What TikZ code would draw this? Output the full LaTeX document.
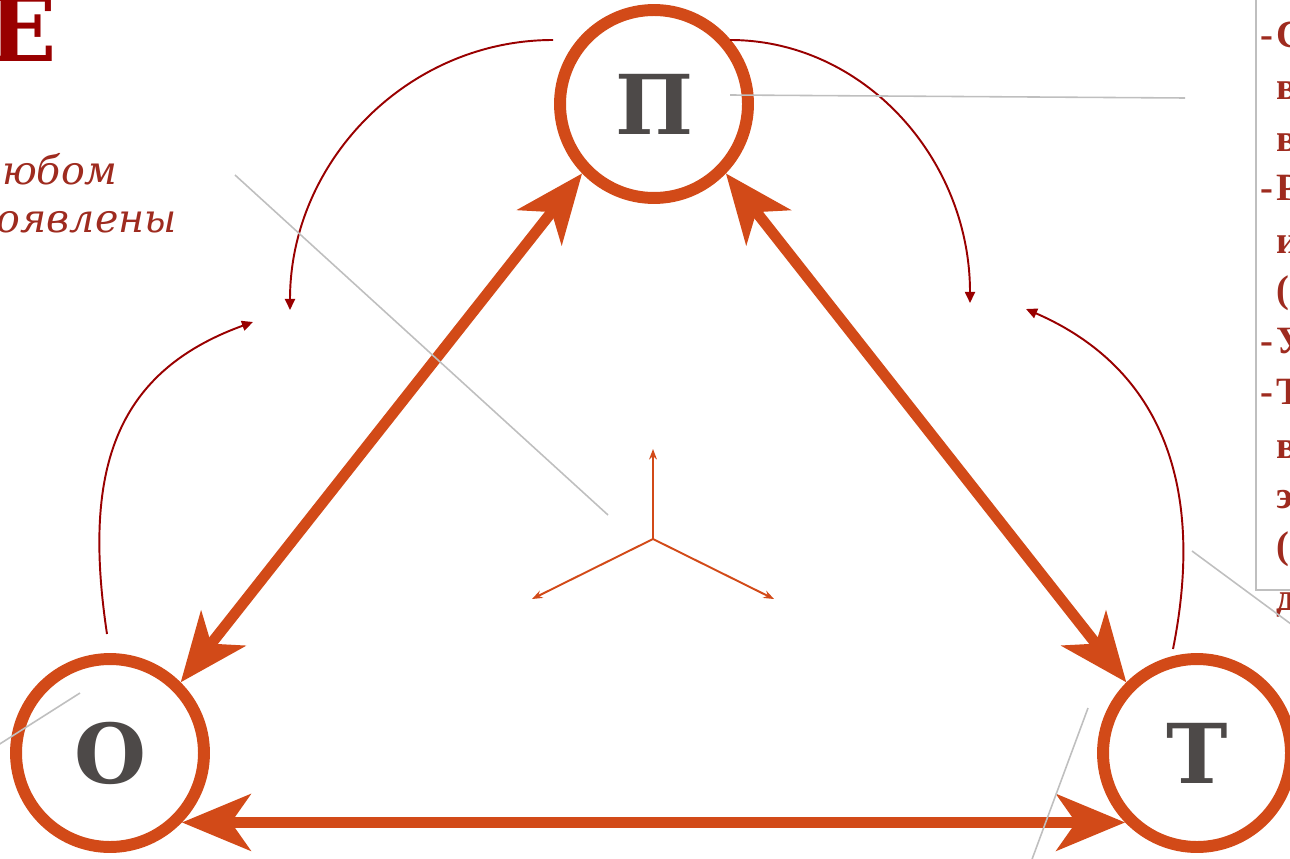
\documentclass[tikz,border=0pt]{standalone}
\usepackage{fontspec}
\usetikzlibrary{arrows.meta}
\newfontfamily\slabfont{DejaVu Serif}
\newfontfamily\panelfont{Liberation Serif}
\definecolor{rust}{HTML}{D24A18}
\definecolor{wine}{HTML}{990000}
\definecolor{brick}{HTML}{9E2B1F}
\definecolor{slate}{HTML}{4D4948}
\definecolor{leader}{HTML}{BFBFBF}
\newcommand{\lead}[1]{\makebox[11pt][c]{#1}}

\begin{document}
\begin{tikzpicture}[x=0.02cm, y=-0.02cm,
  vertex/.style={circle, draw=rust, line width=6.8pt, fill=white, minimum size=3.76cm, inner sep=0pt, text=slate, font=\slabfont\bfseries\fontsize{47}{47}\selectfont},
  triarrow/.style={rust, line width=6.2pt, <->, >={Stealth[length=39pt, width=32pt, inset=11pt]}},
  cyclearc/.style={wine, line width=1.1pt, -{Triangle[length=6.3pt, width=5.7pt]}},
  spoke/.style={rust, line width=1.1pt, -{Stealth[length=6pt, width=4.5pt, inset=2pt]}},
  leaderline/.style={leader, line width=0.9pt},
  panelframe/.style={leader, line width=1.1pt},
  paneltext/.style={anchor=base west, inner sep=0pt, text=brick, font=\panelfont\bfseries\fontsize{22}{22}\selectfont},
  notetext/.style={anchor=base east, inner sep=0pt, text=brick, font=\slabfont\itshape\fontsize{22.5}{22.5}\selectfont}
]
\useasboundingbox (0,0) rectangle (1290,858);
\clip (0,0) rectangle (1290,858);

\node[anchor=base east, inner sep=0pt, text=wine, font=\slabfont\bfseries\fontsize{51}{51}\selectfont] (title) at (57,62) {Е};
\node[notetext] (note1) at (118,185) {любом};
\node[notetext] (note2) at (177,232) {проявлены};

\draw[panelframe] (1256,-20) rectangle (1320,590);
\foreach \y/\t [count=\i] in {48/{\lead{-}С}, 100/{\lead{}в}, 152/{\lead{}в}, 200/{\lead{-}Р}, 253/{\lead{}и}, 302/{\lead{}(}, 353/{\lead{-}У}, 404/{\lead{-}Т}, 458/{\lead{}в}, 508/{\lead{}э}, 558/{\lead{}(}, 610/{\lead{}д}}
  \node[paneltext] (ln\i) at (1257,\y) {\t};

\node[vertex] (vP) at (654,104) {П};
\node[vertex] (vO) at (110,753) {О};
\node[vertex] (vT) at (1197,753) {Т};

\draw[triarrow] (vO.45) -- (vP.-136);
\draw[triarrow] (vP.-44) -- (vT.135);
\draw[triarrow] (vO.-44) -- (vT.-136);

\coordinate (arcPOs) at (553,40);
\coordinate (arcPOe) at (290,310);
\coordinate (arcPTs) at (730,40);
\coordinate (arcPTe) at (970,303);
\coordinate (arcOPs) at (107,634);
\coordinate (arcOPe) at (253,322);
\coordinate (arcTPs) at (1173,649);
\coordinate (arcTPe) at (1026,309);
\draw[cyclearc] (arcPOs) .. controls (408,40) and (290,161) .. (arcPOe);
\draw[cyclearc] (arcPTs) .. controls (863,40) and (970,158) .. (arcPTe);
\draw[cyclearc] (arcOPs) .. controls (83,474) and (112,373) .. (arcOPe);
\draw[cyclearc] (arcTPs) .. controls (1205,489) and (1164,369) .. (arcTPe);

\coordinate (hub) at (653,539);
\coordinate (spUp) at (653,449);
\coordinate (spLeft) at (532,599);
\coordinate (spRight) at (774,599);
\draw[spoke] (hub) -- (spUp);
\draw[spoke] (hub) -- (spLeft);
\draw[spoke] (hub) -- (spRight);

\coordinate (ldA1) at (235,175);
\coordinate (ldA2) at (608,515);
\coordinate (ldB1) at (730,95);
\coordinate (ldB2) at (1185,98);
\coordinate (ldC1) at (1192,551);
\coordinate (ldC2) at (1295,627);
\coordinate (ldD1) at (80,693);
\coordinate (ldD2) at (-5,747);
\coordinate (ldE1) at (1088,708);
\coordinate (ldE2) at (1031,862);
\draw[leaderline] (ldA1) -- (ldA2);
\draw[leaderline] (ldB1) -- (ldB2);
\draw[leaderline] (ldC1) -- (ldC2);
\draw[leaderline] (ldD1) -- (ldD2);
\draw[leaderline] (ldE1) -- (ldE2);
\end{tikzpicture}
\end{document}
